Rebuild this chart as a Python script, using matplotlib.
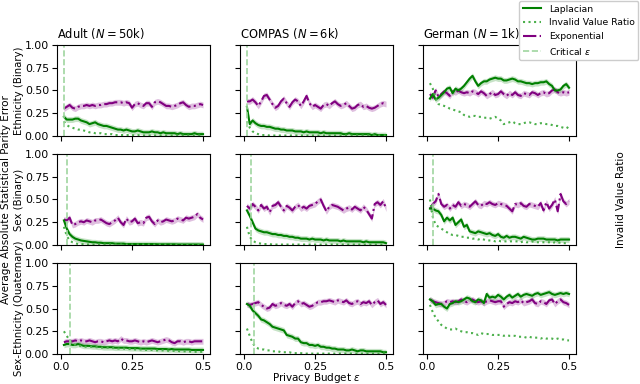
import matplotlib
matplotlib.use("Agg")
import matplotlib.pyplot as plt
import numpy as np

# privacy budgets 0.01 ... 0.50
eps = np.round(np.arange(1, 51) * 0.01, 2)

datasets = ["Adult", "COMPAS", "German"]
sizes = ["50", "6", "1"]
attributes = ["Ethnicity (Binary)", "Sex (Binary)", "Sex-Ethnicity (Quaternary)"]

# ---- Adult ----
lap_adult_eth = [0.21, 0.18, 0.18, 0.18, 0.19, 0.19, 0.17, 0.16, 0.15, 0.13,
                 0.14, 0.15, 0.13, 0.12, 0.11, 0.11, 0.10, 0.09, 0.08, 0.07,
                 0.07, 0.06, 0.07, 0.06, 0.05, 0.05, 0.06, 0.05, 0.04, 0.04,
                 0.04, 0.05, 0.04, 0.04, 0.03, 0.04, 0.03, 0.03, 0.03, 0.03,
                 0.02, 0.03, 0.02, 0.02, 0.02, 0.02, 0.03, 0.02, 0.02, 0.02]
inv_adult_eth = [0.16, 0.12, 0.10, 0.09, 0.08, 0.07, 0.07, 0.06, 0.05, 0.04,
                 0.04, 0.03, 0.03, 0.03, 0.02, 0.02, 0.02, 0.02, 0.01, 0.01,
                 0.01, 0.01, 0.01, 0.01, 0.01, 0.005, 0.01, 0.005, 0.005, 0.005,
                 0.005, 0.005, 0.005, 0.005, 0.005, 0.005, 0.005, 0.005, 0.005, 0.005,
                 0.005, 0.005, 0.005, 0.005, 0.005, 0.005, 0.005, 0.005, 0.005, 0.005]
exp_adult_eth = [0.30, 0.32, 0.34, 0.31, 0.30, 0.32, 0.33, 0.33, 0.34, 0.33,
                 0.34, 0.33, 0.34, 0.34, 0.35, 0.35, 0.36, 0.36, 0.37, 0.37,
                 0.37, 0.36, 0.37, 0.36, 0.31, 0.35, 0.36, 0.34, 0.33, 0.36,
                 0.36, 0.32, 0.37, 0.38, 0.37, 0.35, 0.33, 0.33, 0.32, 0.33,
                 0.34, 0.36, 0.37, 0.34, 0.32, 0.33, 0.33, 0.34, 0.35, 0.34]

lap_adult_sex = [0.27, 0.18, 0.12, 0.09, 0.07, 0.06, 0.05, 0.045, 0.04, 0.035,
                 0.03, 0.03, 0.025, 0.025, 0.02, 0.02, 0.02, 0.02, 0.015, 0.015,
                 0.015, 0.015, 0.01, 0.01, 0.01, 0.01, 0.01, 0.01, 0.01, 0.01,
                 0.01, 0.01, 0.01, 0.008, 0.008, 0.008, 0.008, 0.008, 0.008, 0.008,
                 0.006, 0.006, 0.006, 0.006, 0.006, 0.006, 0.006, 0.006, 0.005, 0.005]
inv_adult_sex = [0.20, 0.10, 0.05, 0.03, 0.02, 0.01, 0.01, 0.008, 0.006, 0.005,
                 0.005, 0.005, 0.005, 0.005, 0.005, 0.005, 0.005, 0.005, 0.005, 0.005,
                 0.005, 0.005, 0.005, 0.005, 0.005, 0.005, 0.005, 0.005, 0.005, 0.005,
                 0.005, 0.005, 0.005, 0.005, 0.005, 0.005, 0.005, 0.005, 0.005, 0.005,
                 0.005, 0.005, 0.005, 0.005, 0.005, 0.005, 0.005, 0.005, 0.005, 0.005]
exp_adult_sex = [0.28, 0.27, 0.30, 0.22, 0.23, 0.25, 0.26, 0.25, 0.27, 0.26,
                 0.25, 0.27, 0.27, 0.28, 0.26, 0.24, 0.23, 0.25, 0.27, 0.30,
                 0.25, 0.22, 0.29, 0.25, 0.26, 0.29, 0.24, 0.25, 0.24, 0.30,
                 0.31, 0.26, 0.23, 0.27, 0.25, 0.26, 0.28, 0.27, 0.26, 0.27,
                 0.29, 0.28, 0.27, 0.30, 0.29, 0.30, 0.31, 0.34, 0.30, 0.28]

lap_adult_se = [0.10, 0.11, 0.11, 0.10, 0.10, 0.11, 0.10, 0.09, 0.09, 0.09,
                0.085, 0.085, 0.08, 0.08, 0.075, 0.075, 0.075, 0.075, 0.07, 0.07,
                0.07, 0.07, 0.07, 0.065, 0.065, 0.065, 0.065, 0.06, 0.06, 0.06,
                0.06, 0.06, 0.06, 0.055, 0.055, 0.055, 0.055, 0.05, 0.055, 0.05,
                0.05, 0.05, 0.05, 0.05, 0.05, 0.045, 0.045, 0.045, 0.045, 0.045]
inv_adult_se = [0.25, 0.20, 0.15, 0.12, 0.10, 0.09, 0.09, 0.08, 0.08, 0.08,
                0.08, 0.075, 0.075, 0.07, 0.07, 0.07, 0.07, 0.065, 0.065, 0.06,
                0.06, 0.06, 0.055, 0.055, 0.055, 0.05, 0.05, 0.05, 0.05, 0.045,
                0.045, 0.045, 0.04, 0.04, 0.04, 0.04, 0.04, 0.035, 0.035, 0.035,
                0.035, 0.03, 0.03, 0.03, 0.03, 0.025, 0.025, 0.025, 0.025, 0.025]
exp_adult_se = [0.13, 0.14, 0.14, 0.14, 0.15, 0.14, 0.15, 0.14, 0.14, 0.15,
                0.14, 0.13, 0.14, 0.14, 0.13, 0.14, 0.15, 0.14, 0.15, 0.14,
                0.17, 0.15, 0.15, 0.14, 0.14, 0.15, 0.14, 0.13, 0.14, 0.13,
                0.14, 0.15, 0.14, 0.13, 0.14, 0.15, 0.16, 0.15, 0.13, 0.12,
                0.14, 0.14, 0.13, 0.14, 0.14, 0.13, 0.14, 0.14, 0.14, 0.14]

# ---- COMPAS ----
lap_compas_eth = [0.32, 0.13, 0.17, 0.14, 0.12, 0.11, 0.11, 0.10, 0.10, 0.09,
                  0.08, 0.08, 0.07, 0.07, 0.06, 0.06, 0.06, 0.05, 0.05, 0.05,
                  0.04, 0.05, 0.04, 0.04, 0.04, 0.04, 0.03, 0.04, 0.03, 0.03,
                  0.03, 0.03, 0.03, 0.03, 0.02, 0.02, 0.03, 0.02, 0.02, 0.02,
                  0.02, 0.02, 0.02, 0.02, 0.01, 0.02, 0.01, 0.01, 0.01, 0.01]
inv_compas_eth = [0.16, 0.09, 0.05, 0.03, 0.02, 0.01, 0.01, 0.01, 0.005, 0.005,
                  0.005, 0.005, 0.005, 0.005, 0.005, 0.005, 0.005, 0.005, 0.005, 0.005,
                  0.005, 0.005, 0.005, 0.005, 0.005, 0.005, 0.005, 0.005, 0.005, 0.005,
                  0.005, 0.005, 0.005, 0.005, 0.005, 0.005, 0.005, 0.005, 0.005, 0.005,
                  0.005, 0.005, 0.005, 0.005, 0.005, 0.005, 0.005, 0.005, 0.005, 0.005]
exp_compas_eth = [0.38, 0.38, 0.40, 0.37, 0.33, 0.38, 0.44, 0.45, 0.40, 0.35,
                  0.31, 0.33, 0.38, 0.41, 0.36, 0.32, 0.37, 0.40, 0.38, 0.33,
                  0.38, 0.44, 0.36, 0.32, 0.34, 0.32, 0.30, 0.34, 0.35, 0.33,
                  0.36, 0.38, 0.35, 0.33, 0.34, 0.36, 0.33, 0.30, 0.31, 0.34,
                  0.35, 0.32, 0.33, 0.31, 0.30, 0.31, 0.33, 0.35, 0.36, 0.35]

lap_compas_sex = [0.38, 0.32, 0.25, 0.18, 0.16, 0.15, 0.14, 0.14, 0.13, 0.12,
                  0.12, 0.11, 0.11, 0.10, 0.10, 0.09, 0.09, 0.08, 0.08, 0.07,
                  0.07, 0.07, 0.06, 0.07, 0.06, 0.06, 0.06, 0.05, 0.06, 0.05,
                  0.05, 0.05, 0.05, 0.04, 0.05, 0.04, 0.04, 0.04, 0.04, 0.04,
                  0.04, 0.03, 0.04, 0.03, 0.03, 0.03, 0.03, 0.03, 0.03, 0.02]
inv_compas_sex = [0.20, 0.09, 0.05, 0.03, 0.02, 0.015, 0.01, 0.01, 0.01, 0.005,
                  0.005, 0.005, 0.005, 0.005, 0.005, 0.005, 0.005, 0.005, 0.005, 0.005,
                  0.005, 0.005, 0.005, 0.005, 0.005, 0.005, 0.005, 0.005, 0.005, 0.005,
                  0.005, 0.005, 0.005, 0.005, 0.005, 0.005, 0.005, 0.005, 0.005, 0.005,
                  0.005, 0.005, 0.005, 0.005, 0.005, 0.005, 0.005, 0.005, 0.005, 0.005]
exp_compas_sex = [0.43, 0.40, 0.45, 0.42, 0.38, 0.44, 0.40, 0.42, 0.36, 0.43,
                  0.44, 0.47, 0.42, 0.38, 0.43, 0.41, 0.38, 0.42, 0.44, 0.40,
                  0.42, 0.40, 0.43, 0.44, 0.45, 0.48, 0.50, 0.43, 0.37, 0.42,
                  0.44, 0.43, 0.42, 0.40, 0.38, 0.40, 0.41, 0.39, 0.42, 0.40,
                  0.38, 0.42, 0.39, 0.34, 0.29, 0.45, 0.47, 0.44, 0.48, 0.40]

lap_compas_se = [0.55, 0.53, 0.48, 0.45, 0.42, 0.38, 0.37, 0.35, 0.33, 0.30,
                 0.29, 0.28, 0.27, 0.26, 0.21, 0.20, 0.19, 0.17, 0.17, 0.13,
                 0.12, 0.12, 0.10, 0.10, 0.09, 0.10, 0.08, 0.08, 0.07, 0.07,
                 0.06, 0.06, 0.05, 0.05, 0.05, 0.04, 0.04, 0.05, 0.04, 0.03,
                 0.04, 0.04, 0.03, 0.03, 0.03, 0.03, 0.03, 0.03, 0.02, 0.02]
inv_compas_se = [0.28, 0.20, 0.12, 0.08, 0.06, 0.05, 0.05, 0.04, 0.04, 0.03,
                 0.03, 0.03, 0.02, 0.02, 0.02, 0.02, 0.01, 0.01, 0.01, 0.01,
                 0.005, 0.005, 0.005, 0.005, 0.005, 0.005, 0.005, 0.005, 0.005, 0.005,
                 0.005, 0.005, 0.005, 0.005, 0.005, 0.005, 0.005, 0.005, 0.005, 0.005,
                 0.005, 0.005, 0.005, 0.005, 0.005, 0.005, 0.005, 0.005, 0.005, 0.005]
exp_compas_se = [0.55, 0.54, 0.55, 0.56, 0.57, 0.54, 0.52, 0.50, 0.51, 0.55,
                 0.53, 0.54, 0.56, 0.54, 0.53, 0.55, 0.52, 0.56, 0.58, 0.55,
                 0.56, 0.54, 0.52, 0.53, 0.55, 0.57, 0.57, 0.58, 0.58, 0.59,
                 0.58, 0.57, 0.59, 0.58, 0.57, 0.59, 0.56, 0.55, 0.57, 0.58,
                 0.55, 0.57, 0.56, 0.58, 0.54, 0.57, 0.59, 0.55, 0.57, 0.54]

# ---- German ----
lap_german_eth = [0.41, 0.46, 0.40, 0.42, 0.45, 0.48, 0.52, 0.53, 0.47, 0.52,
                  0.50, 0.52, 0.55, 0.59, 0.63, 0.66, 0.60, 0.55, 0.58, 0.60,
                  0.60, 0.62, 0.63, 0.64, 0.63, 0.63, 0.61, 0.61, 0.62, 0.63,
                  0.62, 0.60, 0.60, 0.59, 0.58, 0.58, 0.57, 0.58, 0.58, 0.59,
                  0.59, 0.60, 0.57, 0.55, 0.50, 0.50, 0.51, 0.55, 0.57, 0.53]
inv_german_eth = [0.58, 0.52, 0.42, 0.35, 0.34, 0.33, 0.32, 0.30, 0.29, 0.28,
                  0.27, 0.26, 0.23, 0.22, 0.21, 0.22, 0.22, 0.21, 0.21, 0.20,
                  0.20, 0.19, 0.20, 0.21, 0.19, 0.17, 0.13, 0.14, 0.15, 0.16,
                  0.14, 0.13, 0.13, 0.14, 0.15, 0.15, 0.14, 0.13, 0.13, 0.14,
                  0.14, 0.13, 0.13, 0.12, 0.11, 0.11, 0.10, 0.09, 0.10, 0.08]
exp_german_eth = [0.46, 0.42, 0.50, 0.43, 0.46, 0.49, 0.47, 0.44, 0.49, 0.48,
                  0.50, 0.48, 0.47, 0.48, 0.47, 0.49, 0.48, 0.46, 0.49, 0.47,
                  0.44, 0.46, 0.48, 0.45, 0.46, 0.49, 0.46, 0.44, 0.47, 0.45,
                  0.48, 0.45, 0.44, 0.47, 0.46, 0.45, 0.48, 0.47, 0.45, 0.47,
                  0.48, 0.46, 0.47, 0.50, 0.51, 0.48, 0.47, 0.48, 0.47, 0.48]

lap_german_sex = [0.40, 0.40, 0.38, 0.37, 0.33, 0.26, 0.30, 0.27, 0.30, 0.22,
                  0.25, 0.28, 0.20, 0.22, 0.15, 0.14, 0.13, 0.15, 0.14, 0.13,
                  0.12, 0.13, 0.11, 0.10, 0.12, 0.09, 0.08, 0.10, 0.08, 0.09,
                  0.09, 0.08, 0.07, 0.09, 0.08, 0.07, 0.06, 0.06, 0.07, 0.07,
                  0.07, 0.06, 0.06, 0.06, 0.06, 0.05, 0.06, 0.06, 0.06, 0.06]
inv_german_sex = [0.50, 0.31, 0.22, 0.20, 0.18, 0.16, 0.14, 0.12, 0.11, 0.11,
                  0.10, 0.09, 0.09, 0.08, 0.08, 0.07, 0.07, 0.06, 0.07, 0.06,
                  0.05, 0.05, 0.05, 0.04, 0.05, 0.04, 0.04, 0.04, 0.04, 0.04,
                  0.04, 0.04, 0.03, 0.04, 0.03, 0.03, 0.04, 0.03, 0.03, 0.03,
                  0.03, 0.03, 0.03, 0.02, 0.03, 0.02, 0.03, 0.02, 0.02, 0.02]
exp_german_sex = [0.40, 0.45, 0.48, 0.56, 0.45, 0.42, 0.44, 0.40, 0.44, 0.42,
                  0.47, 0.43, 0.45, 0.44, 0.42, 0.45, 0.48, 0.44, 0.43, 0.46,
                  0.45, 0.47, 0.45, 0.44, 0.46, 0.45, 0.44, 0.43, 0.40, 0.37,
                  0.45, 0.44, 0.46, 0.43, 0.42, 0.45, 0.44, 0.43, 0.42, 0.46,
                  0.38, 0.47, 0.40, 0.44, 0.50, 0.37, 0.56, 0.48, 0.45, 0.48]

lap_german_se = [0.60, 0.58, 0.54, 0.55, 0.55, 0.52, 0.50, 0.55, 0.56, 0.58,
                 0.57, 0.58, 0.60, 0.62, 0.61, 0.58, 0.57, 0.60, 0.59, 0.56,
                 0.66, 0.62, 0.63, 0.62, 0.65, 0.63, 0.60, 0.63, 0.65, 0.62,
                 0.64, 0.66, 0.63, 0.65, 0.66, 0.65, 0.64, 0.66, 0.67, 0.65,
                 0.66, 0.67, 0.68, 0.66, 0.65, 0.66, 0.67, 0.66, 0.67, 0.66]
inv_german_se = [0.54, 0.46, 0.40, 0.36, 0.32, 0.30, 0.28, 0.27, 0.27, 0.28,
                 0.26, 0.25, 0.24, 0.24, 0.23, 0.23, 0.22, 0.21, 0.23, 0.22,
                 0.22, 0.22, 0.21, 0.21, 0.21, 0.21, 0.20, 0.21, 0.20, 0.20,
                 0.20, 0.19, 0.19, 0.19, 0.18, 0.19, 0.18, 0.18, 0.18, 0.17,
                 0.18, 0.17, 0.17, 0.17, 0.16, 0.17, 0.16, 0.16, 0.15, 0.15]
exp_german_se = [0.60, 0.58, 0.57, 0.56, 0.55, 0.56, 0.58, 0.57, 0.58, 0.57,
                 0.58, 0.60, 0.58, 0.57, 0.59, 0.60, 0.58, 0.57, 0.58, 0.56,
                 0.58, 0.59, 0.58, 0.57, 0.58, 0.58, 0.52, 0.55, 0.57, 0.56,
                 0.58, 0.57, 0.59, 0.56, 0.57, 0.58, 0.60, 0.56, 0.55, 0.58,
                 0.57, 0.55, 0.59, 0.60, 0.55, 0.58, 0.60, 0.57, 0.56, 0.54]

# critical epsilon per [attribute][dataset], None = not shown
critical_eps = [[0.01, 0.012, None],
                [0.02, 0.024, 0.02],
                [0.033, 0.035, None]]

lap = [[lap_adult_eth, lap_compas_eth, lap_german_eth],
       [lap_adult_sex, lap_compas_sex, lap_german_sex],
       [lap_adult_se, lap_compas_se, lap_german_se]]
inv = [[inv_adult_eth, inv_compas_eth, inv_german_eth],
       [inv_adult_sex, inv_compas_sex, inv_german_sex],
       [inv_adult_se, inv_compas_se, inv_german_se]]
expo = [[exp_adult_eth, exp_compas_eth, exp_german_eth],
        [exp_adult_sex, exp_compas_sex, exp_german_sex],
        [exp_adult_se, exp_compas_se, exp_german_se]]

band = 0.032

fig, axes = plt.subplots(3, 3, figsize=(6.4, 3.84), dpi=100, sharex=True, sharey=True)
fig.subplots_adjust(left=0.089, right=0.9, top=0.883, bottom=0.078,
                    wspace=0.196, hspace=0.198)

for r in range(3):
    for c in range(3):
        ax = axes[r, c]
        e = np.array(expo[r][c])
        l = np.array(lap[r][c])
        ax.fill_between(eps, e - band, e + band, color="purple", alpha=0.25, lw=0)
        h_exp, = ax.plot(eps, e, color="purple", ls="-.", lw=1.5, label="Exponential")
        ax.fill_between(eps, l - band, l + band, color="green", alpha=0.22, lw=0)
        h_lap, = ax.plot(eps, l, color="green", ls="-", lw=1.5, label="Laplacian")
        h_inv, = ax.plot(eps, inv[r][c], color="#4cb04c", ls=":", lw=1.5,
                         label="Invalid Value Ratio")
        if critical_eps[r][c] is not None:
            ax.axvline(critical_eps[r][c], color="#9fd69f", ls="--", lw=1.2)
        ax.set_ylim(0, 1)
        ax.set_yticks([0, 0.25, 0.5, 0.75, 1.0])
        ax.set_xticks([0.0, 0.25, 0.5])
        ax.set_xticklabels(["0.0", "0.25", "0.5"])
        ax.tick_params(labelsize=7.8, length=3.5, pad=2.2)
        if r == 0:
            ax.set_title(f"{datasets[c]} ($N = {sizes[c]}$k)", loc="left",
                         fontsize=8.3, pad=5)
        if c == 0:
            ax.set_ylabel(attributes[r], fontsize=7.3)
            ax.yaxis.set_label_coords(-0.215, 0.5)

h_crit = plt.Line2D([], [], color="#9fd69f", ls="--", lw=1.2, label="Critical $\\varepsilon$")
axes[2, 1].set_xlabel("Privacy Budget $\\varepsilon$", fontsize=7.5)
axes[2, 1].xaxis.set_label_coords(0.5, -0.19)

fig.legend(handles=[h_lap, h_inv, h_exp, h_crit], loc="upper right",
           bbox_to_anchor=(0.999, 1.0), fontsize=6.7, borderaxespad=0.1,
           framealpha=1.0)
fig.text(0.01, 0.48, "Average Absolute Statistical Parity Error",
         rotation=90, va="center", ha="center", fontsize=7.5)
fig.text(0.97, 0.48, "Invalid Value Ratio", rotation=90, va="center",
         ha="center", fontsize=7.5)

fig.savefig("out.png", dpi=100)
